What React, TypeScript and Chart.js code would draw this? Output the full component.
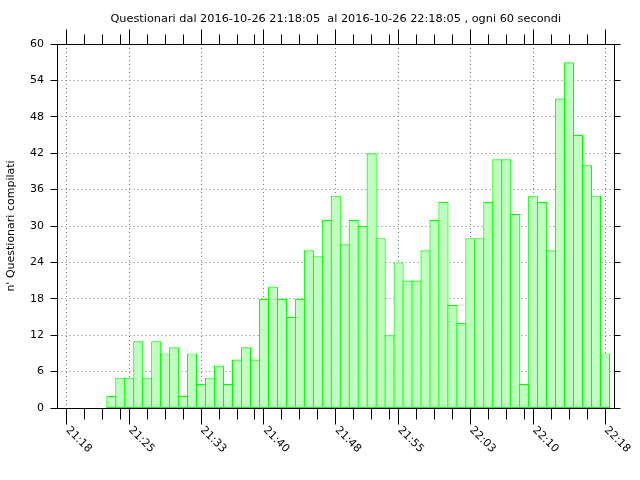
import React, { useEffect, useRef } from "react";
import { Chart, registerables } from "chart.js";

Chart.register(...registerables);

const TITLE =
  "Questionari dal 2016-10-26 21:18:05  al 2016-10-26 22:18:05 , ogni 60 secondi";
const Y_TITLE = "n' Questionari compilati";

// reference time of the x axis (minute offsets are counted from here)
const AXIS_ORIGIN = "21:18";
const AXIS_MIN = "21:17";
const AXIS_MAX = "22:19";

// one bar per minute
const barTimes = [
  "21:23", "21:24", "21:25", "21:26", "21:27", "21:28", "21:29", "21:30",
  "21:31", "21:32", "21:33", "21:34", "21:35", "21:36", "21:37", "21:38",
  "21:39", "21:40", "21:41", "21:42", "21:43", "21:44", "21:45", "21:46",
  "21:47", "21:48", "21:49", "21:50", "21:51", "21:52", "21:53", "21:54",
  "21:55", "21:56", "21:57", "21:58", "21:59", "22:00", "22:01", "22:02",
  "22:03", "22:04", "22:05", "22:06", "22:07", "22:08", "22:09", "22:10",
  "22:11", "22:12", "22:13", "22:14", "22:15", "22:16", "22:17", "22:18",
];

const questionari = [
  2, 5, 5, 11, 5, 11, 9, 10, 2, 9, 4, 5, 7, 4, 8, 10, 8, 18, 20, 18, 15, 18,
  26, 25, 31, 35, 27, 31, 30, 42, 28, 12, 24, 21, 21, 26, 31, 34, 17, 14, 28,
  28, 34, 41, 41, 32, 4, 35, 34, 26, 51, 57, 45, 40, 35, 9,
];

const majorTickTimes = [
  "21:18", "21:25", "21:33", "21:40", "21:48", "21:55", "22:03", "22:10", "22:18",
];
const minorTickTimes = [
  "21:20", "21:22", "21:24", "21:27", "21:29", "21:31", "21:35", "21:37",
  "21:39", "21:42", "21:44", "21:46", "21:50", "21:52", "21:54", "21:57",
  "21:59", "22:01", "22:05", "22:07", "22:09", "22:12", "22:14", "22:16",
];

const yTicks = [0, 6, 12, 18, 24, 30, 36, 42, 48, 54, 60];

const toMin = (t: string) => {
  const [h, m] = t.split(":").map(Number);
  const [oh, om] = AXIS_ORIGIN.split(":").map(Number);
  return h * 60 + m - (oh * 60 + om);
};

const FONT = "'DejaVu Sans', 'Liberation Sans', sans-serif";
const crisp = (v: number) => Math.floor(v) + 0.5;

const framePlugin = {
  id: "gnuplotFrame",
  beforeDatasetsDraw(chart: any) {
    const { ctx, chartArea: a } = chart;
    const x = chart.scales.x;
    const y = chart.scales.y;
    ctx.save();
    ctx.strokeStyle = "#7a7a7a";
    ctx.lineWidth = 1;
    ctx.setLineDash([1, 3]);
    for (const v of yTicks) {
      if (v === yTicks[0] || v === yTicks[yTicks.length - 1]) continue;
      const py = crisp(y.getPixelForValue(v));
      ctx.beginPath();
      ctx.moveTo(a.left, py);
      ctx.lineTo(a.right, py);
      ctx.stroke();
    }
    for (const t of majorTickTimes) {
      const px = crisp(x.getPixelForValue(toMin(t)));
      ctx.beginPath();
      ctx.moveTo(px, a.top);
      ctx.lineTo(px, a.bottom);
      ctx.stroke();
    }
    ctx.restore();
  },
  afterDraw(chart: any) {
    const { ctx, chartArea: a } = chart;
    const x = chart.scales.x;
    const y = chart.scales.y;
    const L = crisp(a.left);
    const R = crisp(a.right);
    const T = crisp(a.top);
    const B = crisp(a.bottom);
    ctx.save();
    ctx.strokeStyle = "#000";
    ctx.lineWidth = 1;
    ctx.setLineDash([]);
    ctx.beginPath();
    ctx.rect(L, T, R - L, B - T);
    ctx.stroke();
    // y ticks, outward on both sides
    ctx.beginPath();
    for (const v of yTicks) {
      const py = crisp(y.getPixelForValue(v));
      ctx.moveTo(L - 7, py);
      ctx.lineTo(L, py);
      ctx.moveTo(R, py);
      ctx.lineTo(R + 6, py);
    }
    // x ticks, outward bottom and top
    for (const t of majorTickTimes) {
      const px = crisp(x.getPixelForValue(toMin(t)));
      ctx.moveTo(px, B);
      ctx.lineTo(px, B + 16);
      ctx.moveTo(px, T);
      ctx.lineTo(px, T - 15);
    }
    for (const t of minorTickTimes) {
      const px = crisp(x.getPixelForValue(toMin(t)));
      ctx.moveTo(px, B);
      ctx.lineTo(px, B + 11);
      ctx.moveTo(px, T);
      ctx.lineTo(px, T - 10);
    }
    ctx.stroke();
    // rotated x labels
    ctx.fillStyle = "#000";
    ctx.font = `11px ${FONT}`;
    ctx.textAlign = "left";
    ctx.textBaseline = "middle";
    for (const t of majorTickTimes) {
      const px = x.getPixelForValue(toMin(t));
      ctx.save();
      ctx.translate(px + 1, B + 20);
      ctx.rotate(Math.PI / 4);
      ctx.fillText(t, 0, 0);
      ctx.restore();
    }
    ctx.restore();
  },
};

export default function App() {
  const ref = useRef<HTMLCanvasElement | null>(null);

  useEffect(() => {
    document.body.style.margin = "0";
    const canvas = ref.current;
    if (!canvas) return;
    Chart.defaults.font.family = FONT;
    Chart.defaults.font.size = 11;
    Chart.defaults.color = "#000";

    const points = barTimes.map((t, i) => ({ x: toMin(t), y: questionari[i] }));

    const chart = new Chart(canvas, {
      type: "bar",
      data: {
        datasets: [
          {
            label: Y_TITLE,
            data: points,
            backgroundColor: "#c0ffc0",
            borderColor: "#00ff00",
            borderWidth: 1.2,
            borderSkipped: false,
            categoryPercentage: 1,
            barPercentage: 1.134,
          },
        ],
      },
      options: {
        animation: false,
        responsive: false,
        devicePixelRatio: 1,
        layout: { padding: { left: 0, right: 26, top: 0, bottom: 0 } },
        plugins: {
          legend: { display: false },
          tooltip: { enabled: false },
          title: {
            display: true,
            fullSize: false,
            text: TITLE,
            color: "#000",
            font: { family: FONT, size: 11.3, weight: "normal" },
            padding: { top: 12, bottom: 18.44 },
          },
        },
        scales: {
          x: {
            type: "linear",
            offset: false,
            min: toMin(AXIS_MIN),
            max: toMin(AXIS_MAX),
            grid: { display: false, offset: false, drawTicks: false },
            border: { display: false },
            ticks: { display: false },
            afterBuildTicks: (scale: any) => {
              scale.ticks = majorTickTimes.map((t) => ({ value: toMin(t) }));
            },
            afterFit: (scale: any) => {
              scale.height = 72;
            },
          },
          y: {
            min: yTicks[0],
            max: yTicks[yTicks.length - 1],
            grid: { display: false, drawTicks: false },
            border: { display: false },
            ticks: {
              stepSize: 6,
              padding: 13.5,
              color: "#000",
              font: { family: FONT, size: 11 },
            },
            title: {
              display: true,
              text: Y_TITLE,
              color: "#000",
              font: { family: FONT, size: 11 },
              padding: { top: 4.5, bottom: 0 },
            },
            afterFit: (scale: any) => {
              scale.width = 57.5;
            },
          },
        },
      },
      plugins: [framePlugin],
    });
    return () => chart.destroy();
  }, []);

  return (
    <div style={{ width: 640, height: 480 }}>
      <canvas ref={ref} width={640} height={480} style={{ display: "block" }} />
    </div>
  );
}
